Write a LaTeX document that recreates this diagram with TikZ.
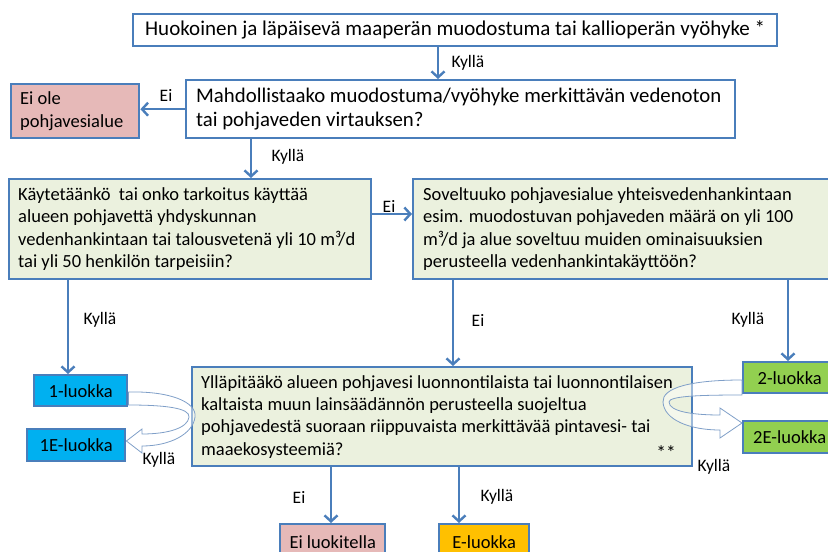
\documentclass[tikz,border=0pt]{standalone}
\usepackage{fontspec}
\setmainfont{Carlito}
\usetikzlibrary{arrows.meta, positioning}
\definecolor{cblue}{HTML}{4A7EBB}
\definecolor{cpink}{HTML}{E6B9B8}
\definecolor{cgreen}{HTML}{EBF1DE}
\definecolor{ccyan}{HTML}{00B0F0}
\definecolor{clime}{HTML}{92D050}
\definecolor{camber}{HTML}{FFC000}
\definecolor{cribbon}{HTML}{7F9FC8}
\tikzset{
  every picture/.style={line width=2.4pt},
  box/.style={draw=cblue, fill=#1, anchor=north west, align=flush left, inner ysep=0pt,
    font=\fontsize{18.5}{22.4}\selectfont},
  box/.default=white,
  bigbox/.style={box, font=\fontsize{20.8}{24.5}\selectfont},
  classbox/.style={draw=cblue, fill=#1, anchor=north west, align=center, inner sep=0pt,
    font=\fontsize{18.5}{22}\selectfont},
  arrow/.style={-{Straight Barb[length=6pt, width=13pt]}, draw=cblue, line width=2.4pt},
  answer/.style={font=\fontsize{17.5}{20}\selectfont},
  ribbon/.style={draw=cribbon, line width=0.8pt, fill=white, fill opacity=0.45},
}

\begin{document}
\begin{tikzpicture}[x=1pt, y=-1pt]
  \useasboundingbox (0,0) rectangle (828,552);
  % questions
  \node[bigbox, font=\fontsize{21}{25}\selectfont, minimum width=644pt, minimum height=32pt] (top) at (132,13)
    {Huokoinen ja läpäisevä maaperän muodostuma tai kallioperän vyöhyke *};
  \node[bigbox, minimum width=549pt, minimum height=58pt, inner xsep=10pt, text width=529pt] (q1) at (185,79)
    {Mahdollistaako muodostuma/vyöhyke merkittävän vedenoton\\tai pohjaveden virtauksen?};
  \node[box=cpink, minimum width=128pt, minimum height=54pt, inner xsep=9pt, text width=110pt] (nogw) at (10,83)
    {Ei ole\\pohjavesialue};
  \node[box=cgreen, minimum width=362pt, minimum height=100pt, inner xsep=9pt, text width=344pt] (q2) at (8,178)
    {Käytetäänkö\ \ tai onko tarkoitus käyttää\\alueen pohjavettä yhdyskunnan\\vedenhankintaan tai talousvetenä yli 10~m³/d\\tai yli 50 henkilön tarpeisiin?};
  \node[box=cgreen, minimum width=430pt, minimum height=100pt, inner xsep=10pt, text width=410pt] (q3) at (412,178)
    {Soveltuuko pohjavesialue yhteisvedenhankintaan\\esim. muodostuvan pohjaveden määrä on yli 100\\m³/d ja alue soveltuu muiden ominaisuuksien\\perusteella vedenhankintakäyttöön?};
  \node[box=cgreen, minimum width=500pt, minimum height=99pt, inner xsep=9pt, text width=482pt] (q4) at (191,366)
    {Ylläpitääkö alueen pohjavesi luonnontilaista tai luonnontilaisen\\kaltaista muun lainsäädännön perusteella suojeltua\\pohjavedestä suoraan riippuvaista merkittävää pintavesi- tai\\maaekosysteemiä?};
  \node[font=\fontsize{19.5}{22.4}\selectfont] (stars) at (666,453) {**};
  % classes
  \node[classbox=ccyan, minimum width=93pt, minimum height=31pt] (c1) at (33,374) {1-luokka};
  \node[classbox=ccyan, minimum width=98pt, minimum height=32pt] (c1e) at (26,428) {1E-luokka};
  \node[classbox=clime, minimum width=93pt, minimum height=31pt] (c2) at (742,361) {2-luokka};
  \node[classbox=clime, minimum width=93pt, minimum height=32pt] (c2e) at (742,420) {2E-luokka};
  \node[classbox=cpink, minimum width=105pt, minimum height=35pt] (none) at (279,523) {Ei luokitella};
  \node[classbox=camber, minimum width=90pt, minimum height=35pt] (ce) at (438,523) {E-luokka};
  % connectors
  \draw[arrow] (top.south -| 438,0) -- (q1.north -| 438,0);
  \draw[arrow] (q1.west) -- (q1.west -| nogw.east);
  \draw[arrow] (q1.south -| 251,0) -- (q2.north -| 251,0);
  \draw[arrow] (q2.east |- 0,214) -- (q3.west |- 0,214);
  \draw[arrow] (q2.south -| 68,0) -- (c1.north -| 68,0);
  \draw[arrow] (q3.south -| 453,0) -- (q4.north -| 453,0);
  \draw[arrow] (q3.south -| 788,0) -- (c2.north -| 788,0);
  \draw[arrow] (q4.south -| 331,0) -- (none.north -| 331,0);
  \draw[arrow] (q4.south -| 459,0) -- (ce.north -| 459,0);
  % curved arrows between classes
  \draw[ribbon] (c1.east |- 0,392) .. controls (170,391) and (197,402) .. (195,417)
    .. controls (193,434) and (170,446) .. (142,446) -- (142,453) -- (c1e.east |- 0,441)
    -- (142,429) -- (142,434) .. controls (168,434) and (188,428) .. (189,417)
    .. controls (190,408) and (165,405) .. (c1.east |- 0,405) -- cycle;
  \draw[ribbon] (c2.west |- 0,380) .. controls (690,380) and (662,388) .. (663,402)
    .. controls (664,420) and (690,430) .. (720,430) -- (720,438) -- (c2e.west |- 0,423)
    -- (720,408) -- (720,415) .. controls (695,415) and (669,412) .. (669,402)
    .. controls (669,396) and (700,395) .. (c2.west |- 0,395) -- cycle;
  % answers
  \node[answer] (a1) at (468,63) {Kyllä};
  \node[answer] (a2) at (166,95) {Ei};
  \node[answer] (a3) at (288,157) {Kyllä};
  \node[answer] (a4) at (389,206) {Ei};
  \node[answer] (a5) at (100,320) {Kyllä};
  \node[answer] (a6) at (478,320) {Ei};
  \node[answer] (a7) at (748,320) {Kyllä};
  \node[answer] (a8) at (159,460) {Kyllä};
  \node[answer] (a9) at (714,467) {Kyllä};
  \node[answer] (a10) at (299,497) {Ei};
  \node[answer] (a11) at (497,497) {Kyllä};
\end{tikzpicture}
\end{document}
